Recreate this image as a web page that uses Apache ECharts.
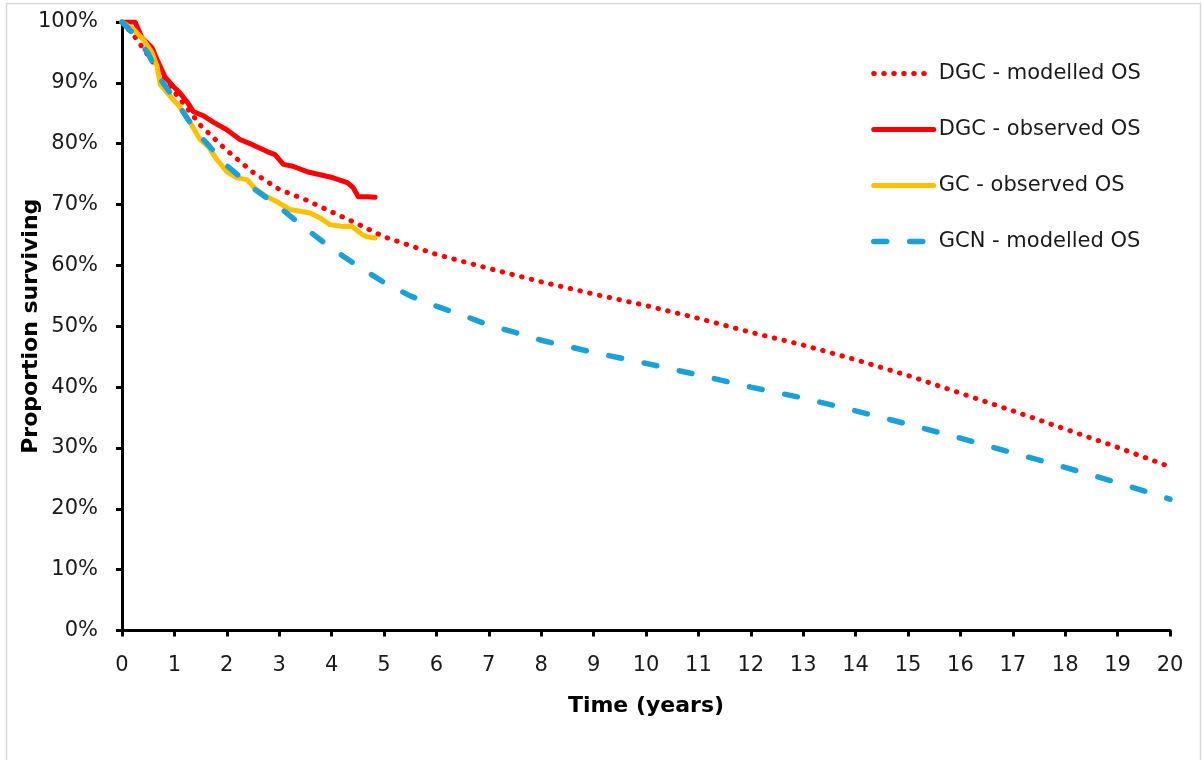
<!DOCTYPE html>
<html>
<head>
<meta charset="utf-8">
<script src="https://cdn.jsdelivr.net/npm/echarts@6/dist/echarts.min.js"></script>
<style>
html,body{margin:0;padding:0;background:#fff;}
#chart{width:1203px;height:760px;}
</style>
</head>
<body>
<div id="chart"></div>
<script>
// ---- data ----
const seriesNames = ['DGC - modelled OS', 'DGC - observed OS', 'GC - observed OS', 'GCN - modelled OS'];

const dgcModT = [0,0.25,0.5,0.75,1,1.5,2,2.5,3,3.5,4,4.5,5,6,7,8,9,10,11,12,13,14,15,16,17,18,19,20];
const dgcModS = [100,97.5,94.5,91.5,88.5,83.0,78.9,75.3,72.5,70.8,68.8,66.8,64.7,61.8,59.5,57.3,55.3,53.4,51.3,49.0,46.9,44.5,41.9,39.0,36.1,33.1,30.1,26.9];

const dgcObsT = [0,0.25,0.38,0.57,0.67,0.82,0.98,1.1,1.24,1.36,1.55,1.75,2.0,2.25,2.5,2.77,2.92,3.08,3.26,3.53,3.78,4.03,4.3,4.41,4.51,4.67,4.83];
const dgcObsS = [100,100,97.4,95.8,93.8,91.0,89.4,88.4,86.9,85.3,84.6,83.5,82.3,80.7,79.8,78.7,78.2,76.6,76.3,75.4,74.9,74.4,73.6,72.8,71.3,71.3,71.2];

const gcObsT = [0,0.22,0.41,0.57,0.67,0.73,0.92,1.1,1.3,1.49,1.65,1.81,2.0,2.19,2.38,2.57,2.76,2.95,3.2,3.4,3.59,3.78,3.97,4.22,4.39,4.58,4.67,4.83];
const gcObsS = [100,98.8,97.1,95.0,92.7,89.7,87.8,86.1,83.5,80.7,79.5,77.4,75.4,74.4,74.1,72.4,71.3,70.5,69.2,68.9,68.6,67.8,66.7,66.4,66.4,65.1,64.7,64.5];

const gcnModT = [0,0.25,0.5,0.75,1,1.25,1.5,1.75,2,2.5,3,3.5,4,4.5,5,5.5,6,6.5,7,7.5,8,9,10,11,12,13,14,15,16,17,18,19,20];
const gcnModS = [100,97.8,94.8,90.4,87.4,84.1,81.2,78.8,76.4,72.7,69.6,66.1,62.8,59.9,57.2,55.0,53.3,51.8,50.2,49.0,47.7,45.7,43.9,42.0,40.0,38.2,36.1,33.9,31.6,29.2,26.8,24.3,21.6];

const xTicks = [0,1,2,3,4,5,6,7,8,9,10,11,12,13,14,15,16,17,18,19,20];
const yTicks = [0,10,20,30,40,50,60,70,80,90,100];

function pairs(t, s){ return t.map((v,i)=>[v, s[i]]); }

const FONT = 'DejaVu Sans';
const RED = '#ff0000', GOLD = '#ffc000', BLUE = '#1ba1d8';
const styles = [
  {color:RED,  width:5,   type:[0.5,9.5], cap:'round'},
  {color:RED,  width:5,   type:'solid', cap:'round', join:'round'},
  {color:GOLD, width:5,   type:'solid', cap:'round', join:'round'},
  {color:BLUE, width:5.5, type:[13,23], cap:'round'}
];
const datasets = [
  pairs(dgcModT, dgcModS),
  pairs(dgcObsT, dgcObsS),
  pairs(gcObsT, gcObsS),
  pairs(gcnModT, gcnModS)
];
const zs = [2,3,3,4];

const chart = echarts.init(document.getElementById('chart'), null, {renderer:'canvas'});
chart.setOption({
  backgroundColor:'#ffffff',
  animation:false,
  graphic:[{
    type:'rect', silent:true, z:-10,
    shape:{x:6.5, y:3.5, width:1194, height:800},
    style:{fill:'none', stroke:'#d9d9d9', lineWidth:1.5}
  }],
  grid:{left:122, right:33, top:22, bottom:129.5, containLabel:false, outerBoundsMode:'none'},
  legend:{
    orient:'vertical',
    left:866, top:58,
    itemWidth:60, itemHeight:14, itemGap:35,
    data:seriesNames.map((n,i)=>({
      name:n,
      itemStyle:{opacity:0},
      lineStyle:{color:styles[i].color, width:styles[i].width, type:styles[i].type, cap:'round'}
    })),
    itemStyle:{opacity:0},
    textStyle:{fontFamily:FONT, fontSize:21, color:'#1a1a1a'}
  },
  xAxis:{
    type:'value', min:0, max:20, interval:1,
    name:'Time (years)', nameLocation:'middle', nameGap:65, nameMoveOverlap:false,
    nameTextStyle:{fontFamily:FONT, fontSize:22, fontWeight:'bold', color:'#000'},
    axisLine:{show:true, onZero:false, lineStyle:{color:'#000', width:3}},
    axisTick:{show:true, length:6, lineStyle:{color:'#000', width:3}},
    splitLine:{show:false},
    axisLabel:{fontFamily:FONT, fontSize:21, color:'#1a1a1a', margin:25,
      formatter:v=> xTicks.includes(v) ? String(v) : ''}
  },
  yAxis:{
    type:'value', min:0, max:100, interval:10,
    name:'Proportion surviving', nameLocation:'middle', nameGap:80, nameMoveOverlap:false,
    nameTextStyle:{fontFamily:FONT, fontSize:22, fontWeight:'bold', color:'#000'},
    axisLine:{show:true, lineStyle:{color:'#000', width:3}},
    axisTick:{show:true, length:6, lineStyle:{color:'#000', width:3}},
    splitLine:{show:false},
    axisLabel:{fontFamily:FONT, fontSize:21, color:'#1a1a1a', margin:24,
      formatter:v=> yTicks.includes(v) ? v + '%' : ''}
  },
  series:seriesNames.map((n,i)=>({
    name:n, type:'line', data:datasets[i], showSymbol:false, symbol:'none', smooth:false, z:zs[i],
    lineStyle:styles[i], itemStyle:{color:styles[i].color}
  }))
});
</script>
</body>
</html>
